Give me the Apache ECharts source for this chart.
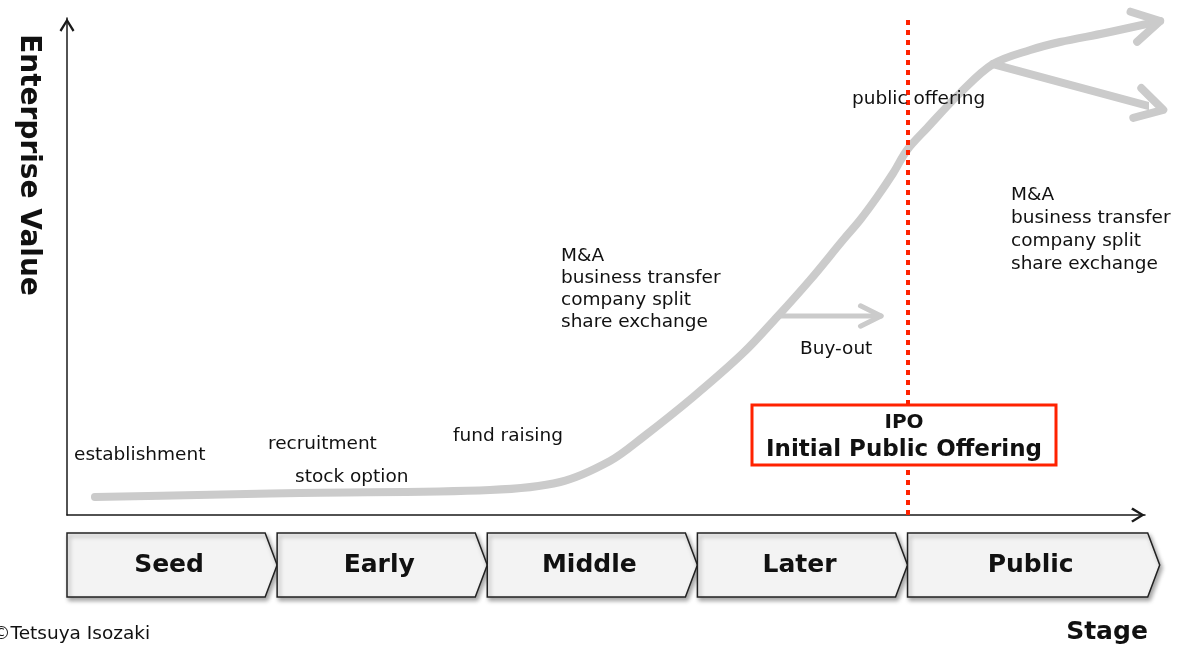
<!DOCTYPE html>
<html><head><meta charset="utf-8">
<script src="https://cdn.jsdelivr.net/npm/echarts@6/dist/echarts.min.js"></script>
<style>html,body{margin:0;padding:0;background:#fff}#c{width:1179px;height:646px}</style>
</head><body><div id="c"></div>
<script>
// ---- data (x in stage units, y in relative enterprise value 0..100) ----
const stages = ['Seed', 'Early', 'Middle', 'Later', 'Public'];
const stageStart = [0, 1, 2, 3, 4];
const stageEnd = [1, 2, 3, 4, 5.2];
const valueCurve = [
  [0.133, 3.62], [1.109, 4.43], [2.013, 5.03], [2.347, 6.64],
  [2.584, 10.86], [2.742, 15.69], [2.980, 23.74], [3.218, 32.60], [3.379, 39.84],
  [3.536, 47.28], [3.693, 55.33], [3.774, 59.36], [3.855, 63.98], [3.932, 68.81],
  [3.998, 73.44], [4.093, 77.87], [4.250, 84.91], [4.407, 90.74], [4.584, 93.56],
  [4.726, 95.17], [4.941, 96.98], [5.202, 99.40]
];
const lowerBranch = [[4.407, 90.74], [5.217, 81.5]];
const buyOut = [[3.379, 40.04], [3.874, 40.04]];
const ipoStage = 4;
const labelsLeft = ['establishment', 'recruitment', 'stock option', 'fund raising'];
const maTexts = ['M&A', 'business transfer', 'company split', 'share exchange'];

const FONT = '"DejaVu Sans", Verdana, sans-serif';
const GRAY = '#cbcbcb';
const chart = echarts.init(document.getElementById('c'), null, {renderer: 'canvas'});

const n = valueCurve.length;
const headData = [
  [...valueCurve[n - 2], ...valueCurve[n - 1]],
  [...lowerBranch[0], ...lowerBranch[1]],
  [...buyOut[0], ...buyOut[1]]
];
const headStyle = [{len: 31, ang: 0.52, w: 8}, {len: 31, ang: 0.52, w: 8}, {len: 23, ang: 0.46, w: 5}];
const arrowPath = 'path://M0,0 L8,13 L6,14.6 L0,4.6 L-6,14.6 L-8,13 Z';

function txt(text, x, y, size, opts) {
  return Object.assign({
    type: 'text', x: x, y: y, z: 50,
    style: Object.assign({text: text, font: size + 'px ' + FONT, fill: '#111', align: 'left', verticalAlign: 'middle'}, (opts && opts.style) || {})
  }, (opts && opts.el) || {});
}

// smooth curve through the data points (tangent-continuous, arm length scaled by segment length)
function renderCurve(params, api) {
  if (params.dataIndex !== 0) return null;
  const pts = valueCurve.map(p => api.coord(p));
  const unit = (a, b) => { const dx = b[0] - a[0], dy = b[1] - a[1], l = Math.hypot(dx, dy) || 1; return [dx / l, dy / l]; };
  let d = 'M' + pts[0][0] + ',' + pts[0][1];
  for (let i = 0; i < pts.length - 1; i++) {
    const p0 = pts[Math.max(i - 1, 0)], p1 = pts[i], p2 = pts[i + 1], p3 = pts[Math.min(i + 2, pts.length - 1)];
    const len = Math.hypot(p2[0] - p1[0], p2[1] - p1[1]) / 3;
    const t1 = unit(p0, p2), t2 = unit(p1, p3);
    const c1 = [p1[0] + t1[0] * len, p1[1] + t1[1] * len];
    const c2 = [p2[0] - t2[0] * len, p2[1] - t2[1] * len];
    d += ' C' + c1.join(',') + ' ' + c2.join(',') + ' ' + p2.join(',');
  }
  return {type: 'path', shape: {pathData: d},
    style: {stroke: GRAY, lineWidth: 8, fill: null, lineCap: 'round', lineJoin: 'round'}};
}

const axisLineStyle = {color: '#1a1a1a', width: 1.5};

chart.setOption({
  animation: false,
  backgroundColor: '#fff',
  grid: [
    {left: 67, top: 18, width: 1078, height: 497},
    {left: 67, top: 533, width: 1078, height: 64}
  ],
  xAxis: [
    {type: 'value', gridIndex: 0, min: 0, max: 5.13,
     axisLine: {show: true, lineStyle: axisLineStyle, symbol: ['none', arrowPath], symbolSize: [15, 14], symbolOffset: [0, -7]},
     axisTick: {show: false}, axisLabel: {show: false}, splitLine: {show: false}},
    {type: 'value', gridIndex: 1, min: 0, max: 5.13, show: false}
  ],
  yAxis: [
    {type: 'value', gridIndex: 0, min: 0, max: 100,
     axisLine: {show: true, onZero: false, lineStyle: axisLineStyle, symbol: ['none', arrowPath], symbolSize: [15, 14], symbolOffset: [0, -7]},
     axisTick: {show: false}, axisLabel: {show: false}, splitLine: {show: false}},
    {type: 'value', gridIndex: 1, min: 0, max: 1, show: false}
  ],
  series: [
    {type: 'custom', name: 'value', xAxisIndex: 0, yAxisIndex: 0, data: valueCurve, clip: false, z: 2,
     renderItem: renderCurve},
    {type: 'line', name: 'lower', data: lowerBranch, showSymbol: false, symbol: 'none', clip: false, z: 2,
     lineStyle: {color: GRAY, width: 8, cap: 'round'}},
    {type: 'line', name: 'buyout', data: buyOut, showSymbol: false, symbol: 'none', clip: false, z: 2,
     lineStyle: {color: GRAY, width: 5, cap: 'round'},
     markLine: {silent: true, symbol: ['none', 'none'], z: 10, label: {show: false},
       lineStyle: {color: '#ff2200', width: 4, type: [5, 5], cap: 'butt'},
       data: [{xAxis: ipoStage}]}},
    {type: 'custom', name: 'heads', xAxisIndex: 0, yAxisIndex: 0, data: headData, clip: false, z: 2,
     renderItem: function (params, api) {
       const a = api.coord([api.value(0), api.value(1)]);
       const b = api.coord([api.value(2), api.value(3)]);
       const st = headStyle[params.dataIndex];
       const ang = Math.atan2(b[1] - a[1], b[0] - a[0]);
       const arm = s => [b[0] - st.len * Math.cos(ang + s * st.ang), b[1] - st.len * Math.sin(ang + s * st.ang)];
       return {type: 'polyline', shape: {points: [arm(1), b, arm(-1)]},
         style: {stroke: GRAY, lineWidth: st.w, fill: null, lineCap: 'round', lineJoin: 'round'}};
     }},
    {type: 'custom', name: 'stages', xAxisIndex: 1, yAxisIndex: 1,
     data: stages.map((s, i) => [stageStart[i], stageEnd[i]]),
     renderItem: function (params, api) {
       const p0 = api.coord([api.value(0), 1]);
       const p1 = api.coord([api.value(1), 0]);
       const x0 = p0[0], top = p0[1], x1 = p1[0], bot = p1[1], tip = 12;
       const mid = (top + bot) / 2;
       return {type: 'group', children: [
         {type: 'polygon', shape: {points: [[x0, top], [x1 - tip, top], [x1, mid], [x1 - tip, bot], [x0, bot]]},
          style: {fill: '#f3f3f3', stroke: '#222', lineWidth: 1.5, shadowBlur: 4, shadowOffsetX: 2, shadowOffsetY: 3, shadowColor: 'rgba(0,0,0,0.35)'}},
         {type: 'text', style: {text: stages[params.dataIndex], x: (x0 + x1 - tip) / 2 + 3, y: mid,
           align: 'center', verticalAlign: 'middle', font: 'bold 25px ' + FONT, fill: '#111'}}
       ]};
     }}
  ],
  graphic: [
    txt(labelsLeft[0], 74, 455, 18.5),
    txt(labelsLeft[1], 268, 444, 18.5),
    txt(labelsLeft[2], 295, 477, 18.5),
    txt(labelsLeft[3], 453, 436, 18.5),
    txt(maTexts.join('\n'), 561, 245, 18.5, {style: {verticalAlign: 'top', lineHeight: 22}}),
    txt('Buy-out', 800, 349, 18.5),
    txt('public offering', 852, 99, 18.5),
    txt(maTexts.join('\n'), 1011, 184, 18.5, {style: {verticalAlign: 'top', lineHeight: 23}}),
    {type: 'rect', z: 40, shape: {x: 752, y: 405, width: 304, height: 60},
     style: {fill: '#fff', stroke: '#ff2200', lineWidth: 3}},
    txt('IPO', 904, 423, 20, {style: {align: 'center', font: 'bold 20px ' + FONT}}),
    txt('Initial Public Offering', 904, 450, 23, {style: {align: 'center', font: 'bold 23px ' + FONT}}),
    txt('Enterprise Value', 28, 165, 28, {style: {align: 'center', font: 'bold 28px ' + FONT}, el: {rotation: -Math.PI / 2}}),
    txt('Stage', 1107, 632, 25, {style: {align: 'center', font: 'bold 25px ' + FONT}}),
    txt('\u00A9Tetsuya Isozaki', -8, 634, 18.5)
  ]
});
</script></body></html>
